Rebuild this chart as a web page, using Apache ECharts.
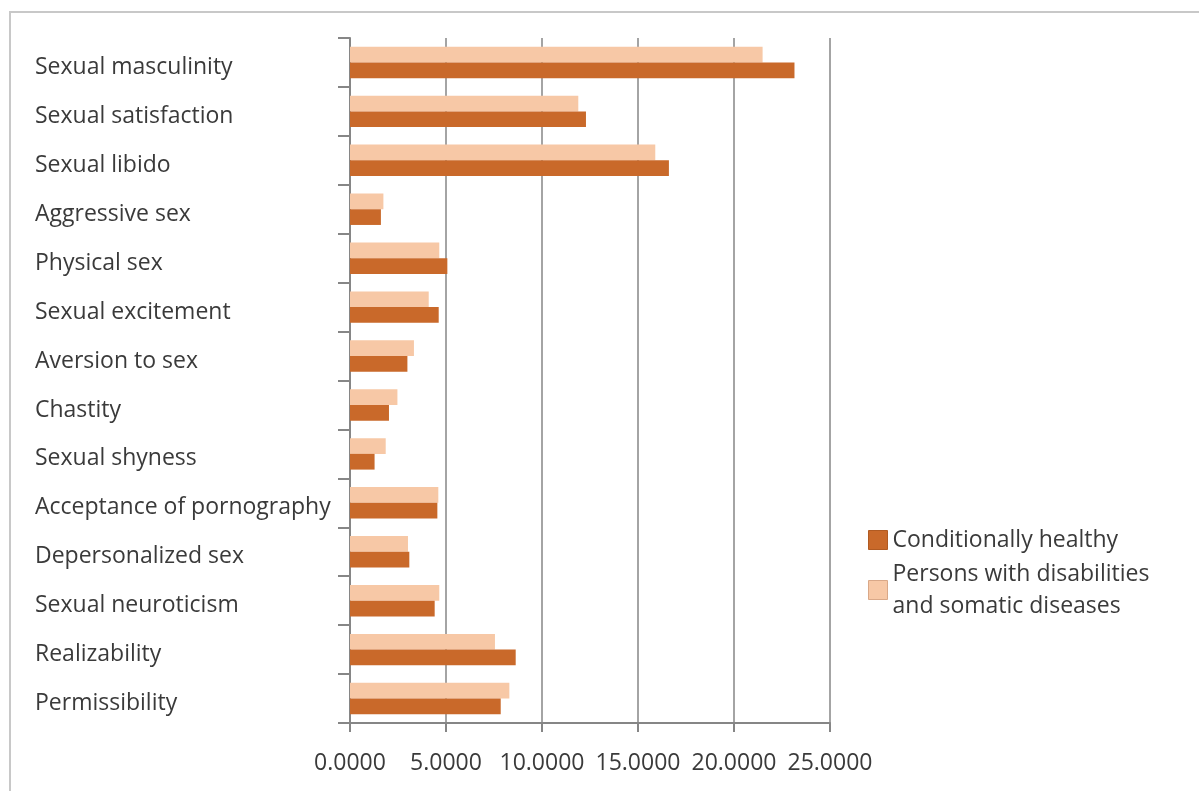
<!DOCTYPE html>
<html>
<head>
<meta charset="utf-8">
<script src="https://cdn.jsdelivr.net/npm/echarts@6/dist/echarts.min.js"></script>
<style>
html,body{margin:0;padding:0;background:#fff;}
#chart{width:1199px;height:791px;}
</style>
</head>
<body>
<div id="chart"></div>
<script>
const categories = [
  'Sexual masculinity','Sexual satisfaction','Sexual libido','Aggressive sex',
  'Physical sex','Sexual excitement','Aversion to sex','Chastity','Sexual shyness',
  'Acceptance of pornography','Depersonalized sex','Sexual neuroticism',
  'Realizability','Permissibility'
];
const seriesNames = ['Conditionally healthy', 'Persons with disabilities and somatic diseases'];
const healthy = [23.15, 12.29, 16.61, 1.61, 5.07, 4.62, 2.99, 2.03, 1.28, 4.55, 3.09, 4.41, 8.63, 7.85];
const disabled = [21.49, 11.89, 15.90, 1.74, 4.65, 4.10, 3.33, 2.47, 1.86, 4.60, 3.02, 4.65, 7.55, 8.30];
const xTicks = [0, 5, 10, 15, 20, 25];

const darkColor = '#C9692A';
const lightColor = '#F7C8A6';
const textColor = '#3a3a3a';
const fontFam = '"Open Sans", sans-serif';
const fs = 23;

const chart = echarts.init(document.getElementById('chart'));
chart.setOption({
  backgroundColor: '#fff',
  animation: false,
  textStyle: { fontFamily: fontFam },
  graphic: [{
    type: 'polyline',
    shape: { points: [[10, 791], [10, 12], [1199, 12]] },
    style: { stroke: '#c8c8c8', lineWidth: 2, fill: null },
    silent: true
  }],
  grid: { left: 350, right: 369, top: 38, bottom: 68, containLabel: false },
  legend: {
    orient: 'vertical',
    left: 863,
    top: 519,
    itemWidth: 19,
    itemHeight: 19,
    itemGap: 2,
    icon: 'rect',
    data: [
      { name: seriesNames[0], itemStyle: { color: darkColor, borderColor: '#b05a22', borderWidth: 1 } },
      { name: seriesNames[1], itemStyle: { color: lightColor, borderColor: '#d9a888', borderWidth: 1 } }
    ],
    formatter: function (n) { return n === seriesNames[1] ? 'Persons with disabilities\nand somatic diseases' : n; },
    textStyle: { fontFamily: fontFam, fontSize: fs, color: textColor, lineHeight: 32 }
  },
  xAxis: {
    type: 'value',
    min: xTicks[0],
    max: xTicks[xTicks.length - 1],
    interval: 5,
    axisLine: { show: true, lineStyle: { color: '#868686', width: 2 } },
    axisTick: { show: true, length: 9, lineStyle: { color: '#868686', width: 2 } },
    splitLine: { show: true, lineStyle: { color: '#868686', width: 1.5 } },
    axisLabel: {
      formatter: function (v) { return v.toFixed(4); },
      fontFamily: fontFam, fontSize: fs, color: textColor, margin: 29
    }
  },
  yAxis: {
    type: 'category',
    data: categories,
    inverse: true,
    axisLine: { show: true, lineStyle: { color: '#868686', width: 2 } },
    axisTick: { show: true, length: 12, inside: false, lineStyle: { color: '#868686', width: 2 } },
    axisLabel: {
      align: 'left', margin: 315,
      verticalAlign: 'top', lineHeight: 10,
      fontFamily: fontFam, fontSize: fs, color: textColor
    }
  },
  series: [
    {
      name: seriesNames[1], type: 'bar', data: disabled,
      itemStyle: { color: lightColor },
      barWidth: 15.7, barGap: '0%', barCategoryGap: '36%'
    },
    {
      name: seriesNames[0], type: 'bar', data: healthy,
      itemStyle: { color: darkColor },
      barWidth: 15.7, barGap: '0%', barCategoryGap: '36%'
    }
  ]
});
</script>
</body>
</html>
